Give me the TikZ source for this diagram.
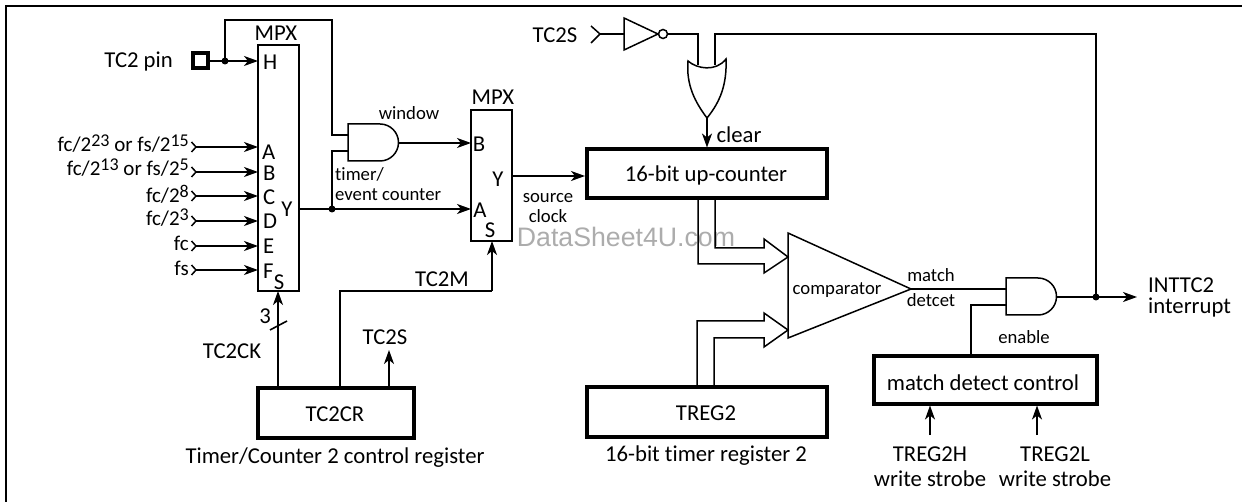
\documentclass[tikz,border=0pt]{standalone}
\usepackage{fontspec}
\setmainfont[Ligatures=NoCommon]{Carlito}
\newfontfamily\wmfont{Liberation Sans}
\usetikzlibrary{arrows.meta,calc}
\newcommand{\fa}{\fontsize{22.7}{25}\selectfont}
\newcommand{\fb}{\fontsize{18.7}{21}\selectfont}
\newcommand{\fc}{\fontsize{21}{23}\selectfont}
\newcommand{\su}[1]{\raisebox{5pt}{\fontsize{18}{20}\selectfont #1}}
\tikzset{
  wire/.style={line width=1.6pt,black},
  arr/.style={wire,-{Stealth[length=14pt,width=10pt,inset=4pt]}},
  thick box/.style={draw,line width=4pt,rectangle,inner sep=0pt},
  mux/.style={draw,line width=1.6pt,rectangle,inner sep=0pt},
  lab/.style={font=\fa,inner sep=0pt},
  small lab/.style={font=\fb,inner sep=0pt},
  clk lab/.style={font=\fc,inner sep=0pt,anchor=east},
  gate/.style={line width=1.5pt,black,line join=miter},
  dot/.style={circle,fill=black,inner sep=0pt,minimum size=7pt},
  hollow/.style={line width=1.5pt,black,line join=miter},
  chev/.style={line width=1.5pt,black},
}
\begin{document}
\begin{tikzpicture}[x=1pt,y=-1pt]
\path[use as bounding box] (0,0) rectangle (1242,502);
\draw[line width=2pt] (6,502) -- (6,6) -- (1242,6);
\node[gray!65,font=\wmfont\fontsize{26.7}{29}\selectfont,inner sep=0pt] (wm) at (626,237) {DataSheet4U.com};

% --- first multiplexer
\node[mux,minimum width=41pt,minimum height=246pt] (mpxa) at (278.5,168) {};
\node[lab] (mpxat) at (276,33) {MPX};
\node[lab,anchor=west] (ah) at (263,62) {H};
\node[lab,anchor=west] (aa) at (262,152) {A};
\node[lab,anchor=west] (ab) at (263,173) {B};
\node[lab,anchor=west] (ac) at (263,197) {C};
\node[lab,anchor=west] (ad) at (263,221) {D};
\node[lab,anchor=west] (ae) at (263,246) {E};
\node[lab,anchor=west] (af) at (263,271) {F};
\node[lab] (as) at (279,282) {S};
\node[lab] (ay) at (287,209) {Y};

% --- pin
\node[draw,line width=4pt,minimum size=15pt,inner sep=0pt] (pin) at (200.5,61) {};
\node[lab,anchor=east] (pint) at (173,62) {TC2 pin};
\coordinate (pinj) at (225,61);
\coordinate (hin) at (258,61);
\coordinate (loopa) at (225,20);
\coordinate (loopb) at (332,20);
\coordinate (anda1) at (348,135);
\coordinate (anda2) at (348,151);
\coordinate (yj) at (332,209);
\coordinate (ya) at (299,209);
\coordinate (mb) at (471,143);
\coordinate (ma) at (471,209);
\coordinate (andao) at (399,143);

% --- clock inputs
\node[clk lab] (l1) at (189,144) {fc/2\su{23} or fs/2\su{15}};
\node[clk lab] (l2) at (189,168) {fc/2\su{13} or fs/2\su{5}};
\node[clk lab] (l3) at (189,194) {fc/2\su{8}};
\node[clk lab] (l4) at (189,218) {fc/2\su{3}};
\node[clk lab] (l5) at (189,243) {fc};
\node[clk lab] (l6) at (189,268) {fs};
\foreach \n/\y in {1/147,2/172,3/196,4/221,5/246,6/270}{
  \coordinate (c\n) at (196,\y);
  \coordinate (d\n) at (258,\y);
  \draw[chev] (191.5,\y-5) -- (c\n) -- (191.5,\y+5);
  \draw[arr] (c\n) -- (d\n);
}

% --- window AND gate
\draw[gate] (348,124) -- (380,124) arc[start angle=90,end angle=-90,radius=18.5pt] -- (348,161) -- cycle;

\draw[arr] (pin) -- (hin);
\draw[wire] (pinj) -- (loopa) -- (loopb) -- (loopb |- anda1) -- (anda1);
\draw[wire] (anda2) -- (anda2 -| yj) -- (yj);
\node[dot] (pinjd) at (pinj) {};
\node[dot] (yjd) at (yj) {};
\draw[arr] (ya) -- (ma);
\draw[arr] (andao) -- (mb);
\node[small lab] (window) at (409,113) {window};
\node[small lab,anchor=west] (timer) at (335,174) {timer/};
\node[small lab,anchor=west] (event) at (335,195) {event counter};

% --- second multiplexer
\node[mux,minimum width=41pt,minimum height=131pt] (mpxb) at (491.5,175.5) {};
\node[lab] (mpxbt) at (493,97) {MPX};
\node[lab] (bb) at (479,144) {B};
\node[lab] (by) at (498,179) {Y};
\node[lab] (ba) at (480,210) {A};
\node[lab] (bs) at (490,230) {S};
\node[inner sep=0pt,align=center,font=\fontsize{18.7}{20}\selectfont] (source) at (548,208) {source\\clock};

% --- counter
\node[thick box,minimum width=240pt,minimum height=49pt] (cnt) at (707,174) {};
\node[lab] (cntt) at (706,175) {16-bit up-counter};
\coordinate (myo) at (512,176);
\draw[arr] (myo) -- (cnt.west |- myo);
\node[lab] (clear) at (739,135) {clear};

% --- TC2S, inverter, OR
\node[lab] (tcs) at (555,35) {TC2S};
\coordinate (tip) at (600,34);
\draw[chev] (591,26) -- (tip) -- (591,43);
\draw[gate] (624,18) -- (658,34) -- (624,50) -- cycle;
\node[draw,circle,line width=1.5pt,minimum size=9pt,inner sep=0pt] (bub) at (663,34) {};
\draw[wire] (tip) -- (624,34);
\coordinate (ora) at (698,65);
\coordinate (orb) at (715,65);
\coordinate (ortip) at (707,118);
\draw[gate] (688,61) .. controls (697,69) and (716,72) .. (726,59)
  .. controls (727,85) and (720,102) .. (ortip)
  .. controls (695,102) and (686,85) .. cycle;
\draw[wire] (bub) -- (ora |- bub) -- (ora);
\coordinate (orr) at (715,34);
\coordinate (rt) at (1096,34);
\coordinate (outj) at (1096,297);
\draw[wire] (orb) -- (orr) -- (rt) -- (outj);
\draw[arr] (ortip) -- (ortip |- cnt.north);

% --- comparator
\coordinate (cmpa) at (788,233);
\coordinate (cmpb) at (788,338);
\coordinate (cmpt) at (911,289);
\draw[gate] (cmpa) -- (cmpt) -- (cmpb) -- cycle;
\node[small lab] (cmpl) at (837,290) {comparator};
\node[small lab] (match) at (931,275) {match};
\node[small lab] (detcet) at (931,300) {detcet};

% --- TREG2
\node[thick box,minimum width=240pt,minimum height=50pt] (treg) at (707,412) {};
\node[lab] (tregt) at (706,413) {TREG2};
\node[lab] (tregc) at (706,456) {16-bit timer register 2};

% --- hollow bus arrows
\draw[hollow] (698,199) -- (698,264) -- (764,264) -- (764,273) -- (788,257) -- (764,239) -- (764,248) -- (715,248) -- (715,199);
\draw[hollow] (697,387) -- (697,321) -- (764,321) -- (764,313) -- (788,330) -- (764,347) -- (764,338) -- (714,338) -- (714,387);

% --- TC2CR
\node[thick box,minimum width=156pt,minimum height=50pt] (cr) at (336,413) {};
\node[lab] (crt) at (335,414) {TC2CR};
\node[lab] (crc) at (335,458) {Timer/Counter 2 control register};
\coordinate (ck) at (278,388);
\coordinate (ckt) at (278,291);
\coordinate (cm) at (340,388);
\coordinate (cmm) at (340,291);
\coordinate (cmt) at (492,241);
\coordinate (csb) at (389,388);
\coordinate (cst) at (389,350);
\draw[arr] (ck) -- (ckt);
\draw[wire] (270,330) -- (287,321);
\node[lab] (three) at (265,316) {3};
\node[lab] (tcck) at (232,351) {TC2CK};
\draw[wire] (cm) -- (cmm) -- (cmm -| cmt);
\draw[arr] (cmm -| cmt) -- (cmt);
\node[lab] (tcm) at (442,279) {TC2M};
\draw[arr] (csb) -- (cst);
\node[lab] (tcs2) at (385,337) {TC2S};

% --- output gate
\coordinate (ga) at (1006,289);
\coordinate (gb) at (1006,305);
\coordinate (go) at (1056,297);
\draw[gate] (1006,278) -- (1038,278) arc[start angle=90,end angle=-90,radius=18.5pt] -- (1006,315) -- cycle;
\draw[wire] (cmpt) -- (ga);
\coordinate (outend) at (1137,297);
\draw[arr] (go) -- (outend);
\node[dot] (outd) at (outj) {};
\node[inner sep=0pt,anchor=west,align=left,font=\fontsize{22.7}{21}\selectfont] (intt) at (1148,297) {INTTC2\\interrupt};
\node[small lab] (enable) at (1024,337) {enable};

% --- match detect control
\node[thick box,minimum width=223pt,minimum height=47pt] (mdc) at (985.5,380) {};
\node[lab] (mdct) at (983,383) {match detect control};
\draw[wire] (gb) -- (971,305) -- (971,356);
\coordinate (sa) at (930,435);
\coordinate (sb) at (1037,435);
\draw[arr] (sa) -- (sa |- mdc.south);
\draw[arr] (sb) -- (sb |- mdc.south);
\node[lab] (ha) at (930,454) {TREG2H};
\node[lab] (hb) at (930,479) {write strobe};
\node[lab] (la) at (1055,454) {TREG2L};
\node[lab] (lb) at (1055,479) {write strobe};
\end{tikzpicture}
\end{document}
